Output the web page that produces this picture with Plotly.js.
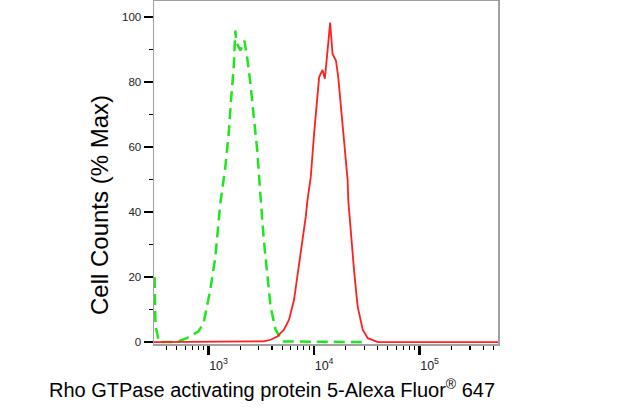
<!DOCTYPE html>
<html>
<head>
<meta charset="utf-8">
<script src="https://cdn.plot.ly/plotly-3.0.1.min.js"></script>
<style>
  html, body { margin: 0; padding: 0; background: #fff; }
  #hist { width: 622px; height: 412px; }
</style>
</head>
<body>
<div id="hist"></div>
<script>
// isotype control (green, dashed)
const controlX = [308, 314, 339, 500, 622, 803, 896, 1038, 1158, 1292, 1443, 1550, 1633, 1730,
    1795, 1836, 2005, 2188, 2321, 2496, 2685, 2892, 3107, 3340, 3593, 3870, 4318, 4999, 29720];
const controlY = [20, 5, 0, 0, 1.2, 3.3, 5.8, 16, 26, 42.6, 53.9, 64, 74.3, 84.5,
    95.8, 92.2, 89.7, 92.7, 87.6, 79.4, 69.2, 59, 44.7, 31.4, 21.2, 10.9, 3.8, 0.2, 0];

// stained sample (red, solid)
const sampleX = [304, 2685, 3342, 3873, 4477, 5176, 5781, 6457, 7194, 7762, 8337, 8650, 8954, 9311,
    10000, 10617, 11169, 12023, 12647, 13428, 14191, 14962, 16106, 16943, 17947, 19320, 20797,
    21086, 22387, 24044, 25882, 28907, 32285, 40179, 553000];
const sampleY = [0, 0, 0.2, 0.7, 1.7, 3.8, 6.8, 13, 23.2, 31.4, 38.5, 43.6, 46.7, 50.8,
    64.1, 74.3, 81.5, 83.7, 81, 89.7, 98.3, 88.6, 86.6, 81.5, 72.3, 61, 49.8,
    43.6, 32.4, 21.2, 10.9, 3.8, 1.2, 0, 0];

const majorX = [1000, 10000, 100000];
const majorXText = ['10<sup>3</sup>', '10<sup>4</sup>', '10<sup>5</sup>'];
const minorX = [400, 500, 600, 700, 800, 900,
    2000, 3000, 4000, 5000, 6000, 7000, 8000, 9000,
    20000, 30000, 40000, 50000, 60000, 70000, 80000, 90000,
    200000, 300000, 400000, 500000];
const majorY = [0, 20, 40, 60, 80, 100];
const minorY = [10, 30, 50, 70, 90];

const xTitle = 'Rho GTPase activating protein 5-Alexa Fluor<sup>®</sup> 647';
const yTitle = 'Cell Counts (% Max)';

const fontFam = 'Liberation Sans, Arial, sans-serif';

const data = [
    {
        x: controlX, y: controlY,
        type: 'scatter', mode: 'lines',
        line: {color: '#1ee61e', width: 2.5, dash: '11px,6px'},
        hoverinfo: 'none'
    },
    {
        x: sampleX, y: sampleY,
        type: 'scatter', mode: 'lines',
        line: {color: '#ff1f1f', width: 1.8},
        hoverinfo: 'none'
    }
];

const layout = {
    width: 622,
    height: 412,
    margin: {l: 154, r: 124, t: 1, b: 68},
    paper_bgcolor: '#ffffff',
    plot_bgcolor: '#ffffff',
    showlegend: false,
    font: {family: fontFam, color: '#111'},
    xaxis: {
        type: 'log',
        range: [2.483, 5.743],
        showgrid: false,
        zeroline: false,
        showline: true,
        linecolor: '#a0a0a0',
        linewidth: 1.5,
        mirror: true,
        tickmode: 'array',
        tickvals: majorX,
        ticktext: majorXText,
        ticks: 'outside',
        ticklen: 9,
        tickwidth: 2.5,
        tickcolor: '#000',
        ticklabelshift: 10,
        tickfont: {size: 12.5, color: '#222'},
        minor: {
            tickmode: 'array',
            tickvals: minorX,
            ticks: 'outside',
            ticklen: 4,
            tickwidth: 1.2,
            tickcolor: '#000',
            showgrid: false
        }
    },
    yaxis: {
        range: [-0.6, 104.9],
        showgrid: false,
        zeroline: false,
        showline: true,
        linecolor: '#a0a0a0',
        linewidth: 1.5,
        mirror: true,
        tickmode: 'array',
        tickvals: majorY,
        ticks: 'outside',
        ticklen: 9,
        tickwidth: 2.5,
        tickcolor: '#000',
        tickfont: {size: 11.5, color: '#222'},
        minor: {
            tickmode: 'array',
            tickvals: minorY,
            ticks: 'outside',
            ticklen: 4,
            tickwidth: 1.2,
            tickcolor: '#000',
            showgrid: false
        }
    },
    annotations: [
        {
            text: xTitle,
            xref: 'paper', yref: 'paper',
            x: 0.3416, y: -0.131,
            xanchor: 'center', yanchor: 'middle',
            showarrow: false,
            font: {size: 20, color: '#000', family: fontFam}
        },
        {
            text: yTitle,
            xref: 'paper', yref: 'paper',
            x: -0.16, y: 0.405,
            xanchor: 'center', yanchor: 'middle',
            textangle: -90,
            showarrow: false,
            font: {size: 24, color: '#000', family: fontFam}
        }
    ]
};

Plotly.newPlot('hist', data, layout, {displayModeBar: false, staticPlot: true});
</script>
</body>
</html>
